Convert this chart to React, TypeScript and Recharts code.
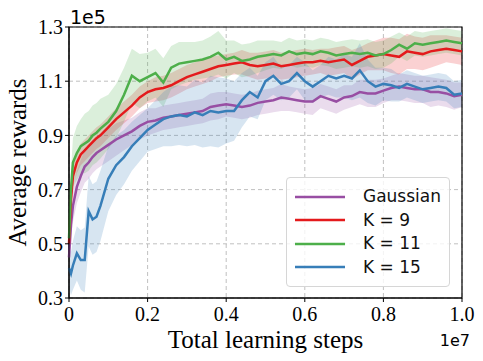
import React from 'react';
import { ComposedChart, Line, Area, XAxis, YAxis, CartesianGrid, Legend, ReferenceArea } from 'recharts';

// training steps (x 1e7)
const steps = [
  0, 0.005, 0.01, 0.02, 0.03, 0.04, 0.05, 0.06, 0.07, 0.08,
  0.1, 0.12, 0.14, 0.16, 0.18, 0.2, 0.22, 0.24, 0.26, 0.28,
  0.3, 0.32, 0.34, 0.36, 0.38, 0.4, 0.42, 0.44, 0.46, 0.48,
  0.5, 0.52, 0.54, 0.56, 0.58, 0.6, 0.62, 0.64, 0.66, 0.68,
  0.7, 0.72, 0.74, 0.76, 0.78, 0.8, 0.82, 0.84, 0.86, 0.88,
  0.9, 0.92, 0.94, 0.96, 0.98, 1.0,
];

// mean rewards (x 1e5) and half width of the shaded band
const gaussMean = [
  0.45, 0.57, 0.64, 0.71, 0.75, 0.785, 0.8, 0.82, 0.835, 0.845,
  0.865, 0.885, 0.9, 0.915, 0.935, 0.95, 0.955, 0.965, 0.97, 0.975,
  0.98, 0.985, 0.99, 1.005, 1.01, 1.015, 1.01, 1.005, 1.01, 1.02,
  1.025, 1.03, 1.04, 1.035, 1.03, 1.025, 1.025, 1.045, 1.035, 1.025,
  1.04, 1.045, 1.06, 1.055, 1.055, 1.065, 1.075, 1.08, 1.075, 1.07,
  1.07, 1.06, 1.06, 1.055, 1.045, 1.05,
];
const gaussSpread = [
  0.04, 0.05, 0.06, 0.06, 0.06, 0.06, 0.06, 0.06, 0.06, 0.06,
  0.06, 0.06, 0.055, 0.05, 0.05, 0.05, 0.045, 0.045, 0.045, 0.045,
  0.045, 0.045, 0.045, 0.05, 0.05, 0.045, 0.045, 0.045, 0.045, 0.045,
  0.045, 0.045, 0.05, 0.045, 0.045, 0.045, 0.05, 0.045, 0.045, 0.045,
  0.045, 0.04, 0.045, 0.05, 0.05, 0.045, 0.045, 0.05, 0.05, 0.05,
  0.05, 0.055, 0.05, 0.05, 0.05, 0.045,
];

const k9Mean = [
  0.5, 0.66, 0.75, 0.8, 0.83, 0.845, 0.86, 0.875, 0.89, 0.9,
  0.93, 0.96, 0.985, 1.01, 1.04, 1.06, 1.07, 1.075, 1.085, 1.1,
  1.115, 1.125, 1.135, 1.145, 1.155, 1.16, 1.165, 1.17, 1.16, 1.155,
  1.16, 1.165, 1.155, 1.16, 1.165, 1.17, 1.17, 1.175, 1.17, 1.175,
  1.18, 1.16, 1.175, 1.19, 1.195, 1.2, 1.195, 1.19, 1.21, 1.205,
  1.2, 1.21, 1.215, 1.22, 1.215, 1.21,
];
const k9Spread = [
  0.03, 0.04, 0.04, 0.04, 0.04, 0.04, 0.04, 0.04, 0.04, 0.04,
  0.04, 0.04, 0.04, 0.04, 0.04, 0.04, 0.045, 0.045, 0.045, 0.045,
  0.045, 0.045, 0.045, 0.045, 0.04, 0.04, 0.04, 0.045, 0.045, 0.05,
  0.05, 0.05, 0.05, 0.05, 0.05, 0.05, 0.045, 0.045, 0.05, 0.05,
  0.05, 0.055, 0.05, 0.05, 0.055, 0.06, 0.065, 0.065, 0.065, 0.06,
  0.06, 0.06, 0.055, 0.05, 0.05, 0.05,
];

const k11Mean = [
  0.52, 0.7, 0.8, 0.835, 0.86, 0.87, 0.88, 0.9, 0.91, 0.925,
  0.95, 0.99, 1.05, 1.12, 1.1, 1.115, 1.13, 1.095, 1.15, 1.165,
  1.17, 1.175, 1.18, 1.19, 1.205, 1.18, 1.19, 1.175, 1.18, 1.19,
  1.195, 1.2, 1.195, 1.21, 1.2, 1.205, 1.2, 1.21, 1.205, 1.195,
  1.2, 1.205, 1.2, 1.205, 1.195, 1.2, 1.215, 1.235, 1.22, 1.24,
  1.235, 1.24, 1.245, 1.25, 1.245, 1.24,
];
const k11Spread = [
  0.05, 0.07, 0.09, 0.1, 0.1, 0.11, 0.11, 0.11, 0.11, 0.11,
  0.1, 0.1, 0.1, 0.1, 0.1, 0.09, 0.09, 0.09, 0.08, 0.08,
  0.075, 0.07, 0.07, 0.075, 0.08, 0.07, 0.06, 0.06, 0.06, 0.06,
  0.055, 0.05, 0.05, 0.05, 0.05, 0.05, 0.05, 0.05, 0.05, 0.05,
  0.05, 0.05, 0.05, 0.05, 0.05, 0.05, 0.05, 0.045, 0.045, 0.045,
  0.045, 0.045, 0.045, 0.045, 0.045, 0.045,
];

const k15Mean = [
  0.41, 0.39, 0.42, 0.465, 0.44, 0.44, 0.62, 0.59, 0.6, 0.64,
  0.74, 0.79, 0.82, 0.86, 0.89, 0.92, 0.94, 0.96, 0.97, 0.975,
  0.97, 0.985, 0.975, 0.99, 0.985, 0.99, 0.99, 1.03, 1.06, 1.04,
  1.1, 1.12, 1.09, 1.1, 1.13, 1.1, 1.08, 1.1, 1.12, 1.11,
  1.12, 1.11, 1.14, 1.1, 1.08, 1.09, 1.085, 1.075, 1.09, 1.08,
  1.07, 1.075, 1.08, 1.075, 1.05, 1.055,
];
const k15Spread = [
  0.07, 0.08, 0.09, 0.1, 0.11, 0.12, 0.13, 0.13, 0.13, 0.13,
  0.12, 0.11, 0.1, 0.09, 0.085, 0.08, 0.09, 0.1, 0.11, 0.11,
  0.11, 0.12, 0.12, 0.13, 0.13, 0.12, 0.11, 0.1, 0.09, 0.08,
  0.07, 0.07, 0.06, 0.06, 0.06, 0.07, 0.06, 0.06, 0.07, 0.07,
  0.08, 0.08, 0.1, 0.08, 0.07, 0.06, 0.06, 0.05, 0.05, 0.05,
  0.05, 0.05, 0.05, 0.05, 0.05, 0.05,
];

const xTicks = [0, 0.2, 0.4, 0.6, 0.8, 1.0];
const yTicks = [0.3, 0.5, 0.7, 0.9, 1.1, 1.3];

const series = [
  { key: 'gauss', name: 'Gaussian', color: '#984ea3', mean: gaussMean, spread: gaussSpread },
  { key: 'k9', name: 'K = 9', color: '#e41a1c', mean: k9Mean, spread: k9Spread },
  { key: 'k11', name: 'K = 11', color: '#4daf4a', mean: k11Mean, spread: k11Spread },
  { key: 'k15', name: 'K = 15', color: '#377eb8', mean: k15Mean, spread: k15Spread },
];

const rows = steps.map((step, i) => {
  const row: any = { step };
  series.forEach((s) => {
    row[s.key] = s.mean[i];
    row[s.key + 'Band'] = [s.mean[i] - s.spread[i], s.mean[i] + s.spread[i]];
  });
  return row;
});

const serif = '"Liberation Serif", "Times New Roman", serif';
const sans = '"DejaVu Sans", sans-serif';

const renderLegend = () => (
  <div
    style={{
      width: 164,
      height: 110,
      boxSizing: 'border-box',
      border: '1px solid #d6d6d6',
      borderRadius: 4,
      background: 'rgba(255,255,255,0.8)',
      position: 'relative',
      fontFamily: sans,
      fontSize: 17,
    }}
  >
    {series.map((s, i) => (
      <div
        key={s.key}
        style={{ position: 'absolute', left: 8, top: 7 + i * 23.5, height: 23, display: 'flex', alignItems: 'center' }}
      >
        <svg width={50} height={6}>
          <line x1={0} y1={3} x2={50} y2={3} stroke={s.color} strokeWidth={2.5} />
        </svg>
        <span style={{ marginLeft: 18, color: '#111', lineHeight: '23px' }}>{s.name}</span>
      </div>
    ))}
  </div>
);

export default function App() {
  return (
    <div style={{ position: 'absolute', left: 0, top: 0, width: 483, height: 361, background: '#fff' }}>
      <ComposedChart width={483} height={361} data={rows} margin={{ top: 27, right: 21, bottom: 0, left: 0 }}>
        <CartesianGrid stroke="#b0b0b0" strokeDasharray="4 3" strokeWidth={0.8} />
        <XAxis
          dataKey="step"
          type="number"
          domain={[0, 1]}
          ticks={xTicks}
          tickFormatter={(v) => (v === 0 ? '0' : v.toFixed(1))}
          height={63}
          tickSize={4}
          tickMargin={5}
          axisLine={{ stroke: '#000' }}
          tickLine={{ stroke: '#000' }}
          tick={{ fill: '#000', fontSize: 20, fontFamily: serif }}
          label={{
            content: () => (
              <g>
                <text x={265.5} y={348} textAnchor="middle" fontSize={25} fontFamily={serif} fill="#000">
                  Total learning steps
                </text>
                <text x={470} y={346} textAnchor="end" fontSize={16} fontFamily={sans} fill="#000">
                  1e7
                </text>
              </g>
            ),
          }}
        />
        <YAxis
          type="number"
          domain={[0.3, 1.3]}
          ticks={yTicks}
          tickFormatter={(v) => v.toFixed(1)}
          width={69}
          tickSize={4}
          tickMargin={2}
          axisLine={{ stroke: '#000' }}
          tickLine={{ stroke: '#000' }}
          tick={{ fill: '#000', fontSize: 20, fontFamily: serif }}
          label={{
            content: () => (
              <g>
                <text
                  x={26}
                  y={162.5}
                  transform="rotate(-90 26 162.5)"
                  textAnchor="middle"
                  fontSize={25}
                  fontFamily={serif}
                  fill="#000"
                >
                  Average rewards
                </text>
                <text x={70} y={24} fontSize={19} fontFamily={sans} fill="#000">
                  1e5
                </text>
              </g>
            ),
          }}
        />
        {series.map((s) => (
          <Area
            key={s.key + 'Band'}
            dataKey={s.key + 'Band'}
            type="linear"
            stroke="none"
            fill={s.color}
            fillOpacity={0.2}
            isAnimationActive={false}
            legendType="none"
          />
        ))}
        {series.map((s) => (
          <Line
            key={s.key}
            dataKey={s.key}
            name={s.name}
            type="linear"
            stroke={s.color}
            strokeWidth={2.5}
            dot={false}
            isAnimationActive={false}
          />
        ))}
        <ReferenceArea x1={0} x2={1} y1={0.3} y2={1.3} fill="none" stroke="#000" strokeWidth={1.2} />
        <Legend
          layout="horizontal"
          verticalAlign="middle"
          align="center"
          content={renderLegend}
          wrapperStyle={{ position: 'absolute', left: 286, top: 177, width: 164, height: 110 }}
        />
      </ComposedChart>
    </div>
  );
}
